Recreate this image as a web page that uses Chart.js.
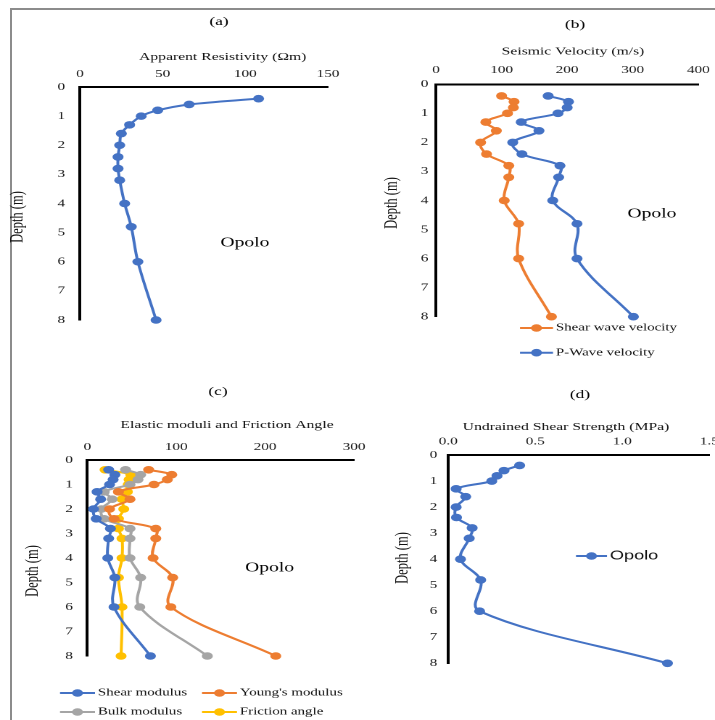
<!DOCTYPE html>
<html>
<head>
<meta charset="utf-8">
<title>Opolo profiles</title>
<script src="https://cdn.jsdelivr.net/npm/chart.js@4.4.1/dist/chart.umd.min.js"></script>
<style>
  html, body { margin: 0; padding: 0; background: #fff; }
  #page { position: relative; width: 715px; height: 720px; overflow: hidden; }
  #frame { position: absolute; left: 10px; top: 8px; width: 720px; height: 720px;
           border-top: 2px solid #8c8c8c; border-left: 2px solid #8c8c8c; }
  canvas { position: absolute; left: 0; top: 0; }
</style>
</head>
<body>
<div id="page">
  <div id="frame"></div>
  <canvas id="chartA" width="493" height="720" style="width:715px;height:720px"></canvas>
  <canvas id="chartB" width="493" height="720" style="width:715px;height:720px"></canvas>
  <canvas id="chartC" width="493" height="720" style="width:715px;height:720px"></canvas>
  <canvas id="chartD" width="493" height="720" style="width:715px;height:720px"></canvas>
</div>
<script>
// depth of each reading (m), same for every panel
const depth = [0.4, 0.6, 0.8, 1.0, 1.3, 1.6, 2.0, 2.4, 2.8, 3.2, 4.0, 4.8, 6.0, 8.0];

// (a) apparent resistivity, ohm-m
const resistivity = [108, 66, 47, 37, 30, 25, 24, 23, 23, 24, 27, 31, 35, 46];

// (b) seismic velocities, m/s
const shearWave = [100, 119, 118, 109, 76, 92, 68, 77, 111, 111, 104, 126, 126, 176];
const pWave = [171, 202, 200, 186, 130, 157, 117, 131, 189, 187, 178, 215, 215, 301];

// (c) elastic moduli and friction angle
const shearModulus = [24, 31, 29, 25, 11, 15, 7, 10, 26, 24, 23, 31, 30, 71];
const youngModulus = [69, 95, 90, 75, 35, 48, 25, 30, 77, 77, 74, 96, 94, 212];
const bulkModulus = [43, 60, 57, 48, 19, 28, 16, 19, 48, 48, 48, 60, 59, 135];
const frictionAngle = [20, 49, 47, 46, 45, 39, 41, 35, 35, 39, 39, 35, 39, 38];

// (d) undrained shear strength, MPa
const undrained = [0.41, 0.32, 0.28, 0.25, 0.045, 0.10, 0.045, 0.047, 0.137, 0.12, 0.07, 0.186, 0.18, 1.26];

const depthTicks = [0, 1, 2, 3, 4, 5, 6, 7, 8];

const BLUE = '#4472C4', ORANGE = '#ED7D31', GREY = '#A5A5A5', YELLOW = '#FFC000';

// the source figure is stretched sideways, so every canvas is drawn narrow
// and widened by css.  page x = canvas x * S
const PAGE_W = 715, PAGE_H = 720;
const S = PAGE_W / 493;
const Y_AXIS_W = 50, X_AXIS_H = 45;
const serif = "'Liberation Serif', 'Times New Roman', serif";
const sans = "'Liberation Sans', Arial, sans-serif";

function series(label, values, color) {
  return {
    label: label,
    data: values.map((v, i) => ({ x: v, y: depth[i] })),
    borderColor: color,
    backgroundColor: color,
    borderWidth: 2,
    pointRadius: 3.8,
    pointBorderWidth: 0,
    tension: 0.35,
    clip: false
  };
}

// titles, panel letter, "Opolo" note and legends, placed in page px
function decor(d) {
  return {
    id: 'decor',
    afterDraw(chart) {
      const ctx = chart.ctx;
      ctx.save();
      ctx.textBaseline = 'middle';
      ctx.textAlign = 'center';
      ctx.fillStyle = '#000';
      ctx.font = '12px ' + serif;
      ctx.fillText(d.letter[0], d.letter[1] / S, d.letter[2]);

      ctx.fillStyle = '#111';
      ctx.font = '10.8px ' + serif;
      ctx.fillText(d.xTitle[0], d.xTitle[1] / S, d.xTitle[2]);

      ctx.save();
      ctx.translate(d.yTitle[0] / S, d.yTitle[1]);
      ctx.rotate(-Math.PI / 2);
      ctx.font = '12.5px ' + serif;
      ctx.fillText('Depth (m)', 0, 0);
      ctx.restore();

      if (d.note) {
        ctx.fillStyle = '#000';
        ctx.font = '13.5px ' + serif;
        ctx.fillText('Opolo', d.note[0] / S, d.note[1]);
      }

      (d.legend || []).forEach(item => {
        const ds = chart.data.datasets[item.i];
        const x0 = item.x / S, x1 = (item.x + item.len) / S;
        ctx.strokeStyle = ds.borderColor;
        ctx.lineWidth = 2;
        ctx.beginPath();
        ctx.moveTo(x0, item.y);
        ctx.lineTo(x1, item.y);
        ctx.stroke();
        ctx.fillStyle = ds.backgroundColor;
        ctx.beginPath();
        ctx.arc((x0 + x1) / 2, item.y, 3.8, 0, Math.PI * 2);
        ctx.fill();
        ctx.fillStyle = '#111';
        ctx.textAlign = 'left';
        ctx.font = item.font || ('10.3px ' + serif);
        ctx.fillText(ds.label, x1 + 2, item.y);
      });
      ctx.restore();
    }
  };
}

function panel(id, p) {
  const a = p.area;
  const tickFont = { family: serif, size: 10.5 };
  return new Chart(document.getElementById(id), {
    type: 'line',
    data: { datasets: p.datasets },
    options: {
      responsive: false,
      animation: false,
      events: [],
      devicePixelRatio: 2,
      layout: {
        padding: {
          left: a.left / S - Y_AXIS_W,
          right: (PAGE_W - a.right) / S,
          top: a.top - X_AXIS_H,
          bottom: PAGE_H - a.bottom
        }
      },
      plugins: { legend: { display: false }, tooltip: { enabled: false } },
      scales: {
        x: {
          type: 'linear',
          position: 'top',
          min: 0,
          max: p.xMax,
          grid: { display: false, drawTicks: false },
          border: { display: true, color: '#000', width: 2 },
          ticks: {
            stepSize: p.xStep,
            padding: p.xTickPad,
            maxRotation: 0,
            autoSkip: false,
            color: '#1a1a1a',
            font: tickFont,
            callback: p.xFormat || (v => v)
          },
          afterFit: s => { s.height = X_AXIS_H; s.paddingLeft = 0; s.paddingRight = 0; }
        },
        y: {
          type: 'linear',
          position: 'left',
          reverse: true,
          min: depthTicks[0],
          max: depthTicks[depthTicks.length - 1],
          grid: { display: false, drawTicks: false },
          border: { display: true, color: '#000', width: 2 },
          ticks: { stepSize: 1, padding: p.yTickPad, color: '#1a1a1a', font: tickFont },
          afterFit: s => { s.width = Y_AXIS_W; s.paddingTop = 0; s.paddingBottom = 0; }
        }
      }
    },
    plugins: [decor(p.decor)]
  });
}

panel('chartA', {
  area: { left: 80, top: 87, right: 328, bottom: 320 },
  xMax: 150, xStep: 50, xTickPad: 6.7, yTickPad: 10.3,
  datasets: [series('Apparent resistivity', resistivity, BLUE)],
  decor: {
    letter: ['(a)', 219, 22],
    xTitle: ['Apparent Resistivity (\u03A9m)', 222.7, 57.3],
    yTitle: [18, 217],
    note: [245, 243]
  }
});

panel('chartB', {
  area: { left: 436, top: 84.3, right: 698.3, bottom: 316.7 },
  xMax: 400, xStep: 100, xTickPad: 8, yTickPad: 5.3,
  datasets: [
    series('Shear wave velocity', shearWave, ORANGE),
    series('P-Wave velocity', pWave, BLUE)
  ],
  decor: {
    letter: ['(b)', 575, 25],
    xTitle: ['Seismic Velocity (m/s)', 573, 51.7],
    yTitle: [392, 203],
    note: [652, 214],
    legend: [
      { i: 0, x: 520, y: 328, len: 33 },
      { i: 1, x: 520, y: 352.7, len: 33 }
    ]
  }
});

panel('chartC', {
  area: { left: 87.3, top: 460, right: 354, bottom: 656 },
  xMax: 300, xStep: 100, xTickPad: 6.7, yTickPad: 10,
  datasets: [
    series('Shear modulus', shearModulus, BLUE),
    series("Young's modulus", youngModulus, ORANGE),
    series('Bulk modulus', bulkModulus, GREY),
    series('Friction angle', frictionAngle, YELLOW)
  ],
  decor: {
    letter: ['(c)', 218, 392],
    xTitle: ['Elastic moduli and Friction Angle', 227, 425],
    yTitle: [33, 571],
    note: [269.5, 568],
    legend: [
      { i: 0, x: 60, y: 693, len: 35 },
      { i: 1, x: 202, y: 693, len: 35 },
      { i: 2, x: 60, y: 712, len: 35 },
      { i: 3, x: 202, y: 712, len: 35 }
    ]
  }
});

panel('chartD', {
  area: { left: 448.3, top: 455, right: 711.7, bottom: 663.3 },
  xMax: 1.5, xStep: 0.5, xTickPad: 7, yTickPad: 7.6,
  xFormat: v => Number(v).toFixed(1),
  datasets: [series('Opolo', undrained, BLUE)],
  decor: {
    letter: ['(d)', 580, 395],
    xTitle: ['Undrained Shear Strength (MPa)', 566, 427],
    yTitle: [403, 558],
    legend: [{ i: 0, x: 576, y: 556, len: 31, font: '12.5px ' + sans }]
  }
});
</script>
</body>
</html>
